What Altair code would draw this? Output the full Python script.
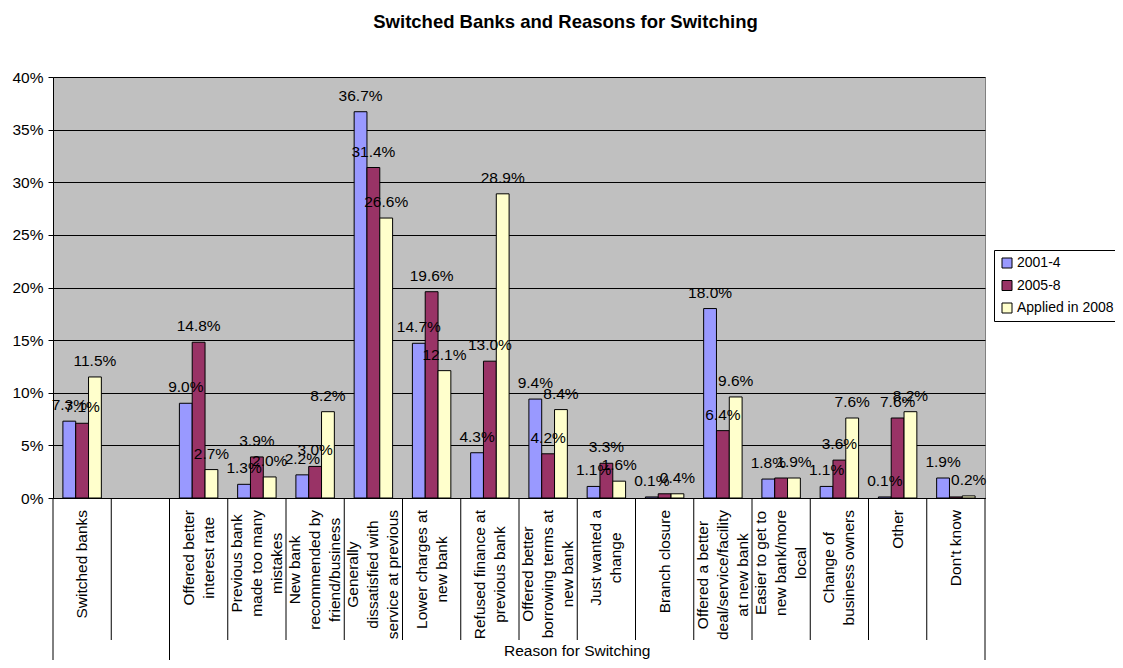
import altair as alt
import pandas as pd

# ---------------- data ----------------
categories = [
    "Switched banks",
    "",
    "Offered better\ninterest rate",
    "Previous bank\nmade too many\nmistakes",
    "New bank\nrecommended by\nfriend/business",
    "Generally\ndissatisfied with\nservice at previous",
    "Lower charges at\nnew bank",
    "Refused finance at\nprevious bank",
    "Offered better\nborrowing terms at\nnew bank",
    "Just wanted a\nchange",
    "Branch closure",
    "Offered a better\ndeal/service/facility\nat new bank",
    "Easier to get to\nnew bank/more\nlocal",
    "Change of\nbusiness owners",
    "Other",
    "Don't know",
]
series_names = ["2001-4", "2005-8", "Applied in 2008"]
values_2001_4 = [7.3, None, 9.0, 1.3, 2.2, 36.7, 14.7, 4.3, 9.4, 1.1, 0.1, 18.0, 1.8, 1.1, 0.1, 1.9]
values_2005_8 = [7.1, None, 14.8, 3.9, 3.0, 31.4, 19.6, 13.0, 4.2, 3.3, 0.4, 6.4, 1.9, 3.6, 7.6, 0.1]
values_applied_2008 = [11.5, None, 2.7, 2.0, 8.2, 26.6, 12.1, 28.9, 8.4, 1.6, 0.4, 9.6, 1.9, 7.6, 8.2, 0.2]
# bars whose data label is not shown in the reference
unlabelled = [("2005-8", "Branch closure"), ("2005-8", "Easier to get to\nnew bank/more\nlocal"),
              ("2005-8", "Don't know")]
groups = [("", 0, 2), ("Reason for Switching", 2, 16)]
y_ticks = [0, 0.05, 0.10, 0.15, 0.20, 0.25, 0.30, 0.35, 0.40]
colors = ["#9999FF", "#993366", "#FFFFCC"]

# ---------------- layout constants ----------------
FONT = "Liberation Sans"
FS = 15.5
PLOT_W, PLOT_H = 932, 421
YMAX = 0.40
BAR_W = 0.22          # bar width, in category units
LABEL_GAP = 12        # px between axis and top of category label
LINE_H = 20           # line height of category labels
STEP = PLOT_W / len(categories)

# approximate Arial / Liberation Sans advance widths (em)
_W = {c: 0.556 for c in "abdeghnopqu0123456789"}
_W.update({"c": 0.5, "k": 0.5, "s": 0.5, "v": 0.5, "x": 0.5, "y": 0.5, "z": 0.5,
           "f": 0.278, "t": 0.278, "i": 0.222, "j": 0.222, "l": 0.222, "r": 0.333,
           "m": 0.833, "w": 0.722, " ": 0.278, "/": 0.278, "'": 0.191, "-": 0.333,
           "B": 0.667, "C": 0.722, "D": 0.722, "E": 0.667, "G": 0.778, "J": 0.5,
           "L": 0.556, "N": 0.722, "O": 0.778, "P": 0.667, "R": 0.722, "S": 0.667})


def text_px(s):
    return sum(_W.get(ch, 0.556) for ch in s) * FS


# ---------------- tables ----------------
rows = []
for si, (name, vals) in enumerate(zip(series_names, [values_2001_4, values_2005_8, values_applied_2008])):
    for ci, (cat, v) in enumerate(zip(categories, vals)):
        if v is None:
            continue
        rows.append({"cat": cat, "ci": ci, "si": si, "series": name, "pct": v,
                     "show": 0 if (name, cat) in unlabelled else 1})
bars = pd.DataFrame(rows)

lab_rows = []
for ci, cat in enumerate(categories):
    if not cat:
        continue
    lines = cat.split("\n")
    longest = max(text_px(line) for line in lines)
    lab_rows.append({"ci": ci, "label": cat, "n": len(lines),
                     "ly": -(LABEL_GAP + longest / 2) / PLOT_H * YMAX})
cat_labels = pd.DataFrame(lab_rows)

bounds = list(range(len(categories) + 1))
group_edges = set()
for _, a, b in groups:
    group_edges.update([a, b])
rules = pd.DataFrame({"b": bounds, "long": [1 if b in group_edges else 0 for b in bounds]})
grp = pd.DataFrame([{"name": n, "start": a, "end": b} for n, a, b in groups if n])

xscale = alt.Scale(domain=[0, len(categories)], nice=False, zero=False)
yscale = alt.Scale(domain=[0, YMAX], nice=False)

bar_layer = alt.Chart(bars).transform_calculate(
    v="datum.pct / 100",
    x0=f"datum.ci + 0.5 + (datum.si - 1.5) * {BAR_W}",
    x1=f"datum.ci + 0.5 + (datum.si - 0.5) * {BAR_W}",
).mark_bar(stroke="black", strokeWidth=1).encode(
    x=alt.X("x0:Q", scale=xscale, title=None),
    x2="x1:Q",
    y=alt.Y("v:Q", scale=yscale, title=None,
            axis=alt.Axis(values=y_ticks, format=".0%")),
    y2=alt.datum(0),
    color=alt.Color("series:N",
                    scale=alt.Scale(domain=series_names, range=colors),
                    legend=alt.Legend(orient="none", legendX=941, legendY=173, title=None,
                                      symbolType="square", symbolSize=100,
                                      symbolStrokeColor="black", symbolStrokeWidth=1,
                                      labelFont=FONT, labelFontSize=14, labelColor="black",
                                      strokeColor="black", fillColor="white",
                                      padding=6, rowPadding=8.5, labelOffset=3)),
)

value_labels = alt.Chart(bars).transform_filter("datum.show == 1").transform_calculate(
    v="datum.pct / 100",
    xc=f"datum.ci + 0.5 + (datum.si - 1) * {BAR_W}",
).mark_text(font=FONT, fontSize=FS, color="black", baseline="alphabetic", dy=-11).encode(
    x=alt.X("xc:Q", scale=xscale, title=None),
    y=alt.Y("v:Q", scale=yscale, title=None),
    text=alt.Text("v:Q", format=".1%"),
)

cat_text = alt.Chart(cat_labels).transform_calculate(
    xm=f"datum.ci + 0.5 - (datum.n - 1) * {LINE_H / 2 / STEP}"
).mark_text(font=FONT, fontSize=FS, color="black", angle=270, align="center",
            baseline="middle", lineBreak="\n", lineHeight=LINE_H).encode(
    x=alt.X("xm:Q", scale=xscale, title=None),
    y=alt.Y("ly:Q", scale=yscale, title=None),
    text="label:N",
)

short_rules = alt.Chart(rules).transform_filter("datum.long == 0").mark_rule(
    color="black", strokeWidth=1).encode(
    x=alt.X("b:Q", scale=xscale, title=None),
    y=alt.value(PLOT_H),
    y2=alt.value(PLOT_H + 142),
)
long_rules = alt.Chart(rules).transform_filter("datum.long == 1").mark_rule(
    color="black", strokeWidth=1).encode(
    x=alt.X("b:Q", scale=xscale, title=None),
    y=alt.value(PLOT_H),
    y2=alt.value(PLOT_H + 165),
)

group_text = alt.Chart(grp).transform_calculate(
    gc="(datum.start + datum.end) / 2"
).mark_text(font=FONT, fontSize=FS, color="black", baseline="middle").encode(
    x=alt.X("gc:Q", scale=xscale, title=None),
    y=alt.value(PLOT_H + 153),
    text="name:N",
)

chart = alt.layer(
    bar_layer, value_labels, short_rules, long_rules, cat_text, group_text
).properties(
    width=PLOT_W,
    height=PLOT_H,
    background="white",
    autosize=alt.AutoSizeParams(type="none"),
    padding={"left": 45, "top": 69, "right": 130, "bottom": 162},
    title=alt.TitleParams(
        text="Switched Banks and Reasons for Switching",
        font=FONT, fontSize=18.5, fontWeight="bold", color="black",
        anchor="middle", frame="group", dx=46.5, offset=24, baseline="alphabetic",
    ),
).configure_view(
    fill="#C0C0C0", stroke="#808080", strokeWidth=1,
).configure_axisX(
    labels=False, ticks=False, grid=False, domainColor="black", domainWidth=1,
).configure_axisY(
    labelFont=FONT, labelFontSize=FS, labelColor="black", labelPadding=5,
    tickColor="black", tickSize=5, domainColor="black", domainWidth=1,
    gridColor="black", gridWidth=1, gridOpacity=1,
)

chart.save("out.html", embed_options={"renderer": "svg", "actions": False})
